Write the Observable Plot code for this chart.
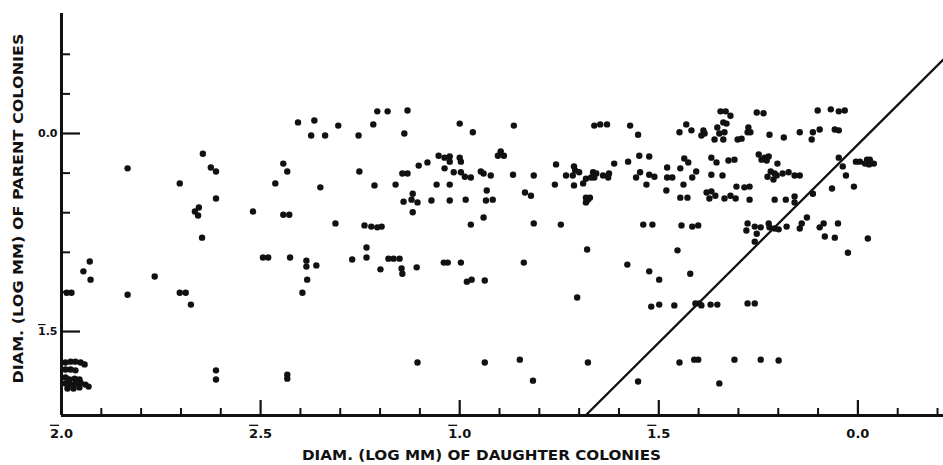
<!DOCTYPE html>
<html><head><meta charset="utf-8">
<script src="https://cdn.jsdelivr.net/npm/d3@7"></script>
<script src="https://cdn.jsdelivr.net/npm/@observablehq/plot@0.6"></script>
<style>html,body{margin:0;padding:0;background:#fff}</style>
</head><body><div id="chart"></div>
<script>
// [daughter log diam, parent log diam]
const leftPoints = [[-1.406,0.028],[-1.645,-0.051],[-1.834,-0.088],[-1.625,-0.086],[-1.612,-0.096],[-1.443,-0.076],[-1.433,-0.096],[-1.703,-0.126],[-1.463,-0.126],[-1.612,-0.164],[-1.665,-0.197],[-1.655,-0.187],[-1.657,-0.207],[-1.519,-0.197],[-1.443,-0.205],[-1.428,-0.205],[-1.647,-0.263],[-1.929,-0.323],[-1.494,-0.313],[-1.481,-0.313],[-1.426,-0.313],[-1.945,-0.348],[-1.927,-0.369],[-1.766,-0.361],[-1.834,-0.407],[-1.703,-0.402],[-1.688,-0.402],[-1.675,-0.432],[-1.987,-0.402],[-1.975,-0.402],[-1.612,-0.598],[-1.612,-0.621],[-1.433,-0.609],[-1.433,-0.619]];
const edgeCluster = [[-1.990,-0.578],[-1.977,-0.576],[-1.965,-0.576],[-1.952,-0.578],[-1.942,-0.583],[-1.990,-0.596],[-1.977,-0.596],[-1.965,-0.598],[-1.990,-0.616],[-1.980,-0.621],[-1.967,-0.619],[-1.955,-0.621],[-1.990,-0.631],[-1.977,-0.634],[-1.965,-0.631],[-1.952,-0.629],[-1.940,-0.634],[-1.932,-0.639],[-1.985,-0.644],[-1.970,-0.644],[-1.955,-0.641]];
const middlePoints = [[-1.207,0.056],[-1.181,0.056],[-1.131,0.058],[-1.365,0.033],[-1.305,0.020],[-1.217,0.023],[-1.000,0.025],[-0.864,0.020],[-0.662,0.020],[-0.647,0.023],
[-1.373,-0.005],[-1.338,-0.005],[-1.254,-0.005],[-1.139,0.000],[-0.967,0.003],
[-0.897,-0.045],[-0.904,-0.056],[-0.889,-0.056],
[-1.053,-0.056],[-1.038,-0.061],[-1.025,-0.058],[-1.025,-0.071],[-1.000,-0.061],[-0.997,-0.071],
[-1.081,-0.073],[-1.103,-0.081],[-1.038,-0.088],[-1.252,-0.096],[-1.144,-0.101],[-1.131,-0.101],[-1.015,-0.098],[-0.997,-0.098],[-0.987,-0.109],[-0.972,-0.111],[-0.947,-0.096],[-0.940,-0.101],[-0.922,-0.106],[-0.866,-0.104],[-0.814,-0.106],[-0.758,-0.078],
[-0.713,-0.083],[-0.710,-0.093],[-0.700,-0.098],[-0.733,-0.106],[-0.716,-0.106],
[-0.665,-0.098],[-0.657,-0.101],[-0.670,-0.111],[-0.683,-0.114],[-0.662,-0.111],
[-1.350,-0.136],[-1.214,-0.131],[-1.161,-0.129],[-1.058,-0.129],[-1.025,-0.129],[-1.118,-0.152],
[-1.141,-0.172],[-1.121,-0.167],[-1.106,-0.174],[-1.071,-0.169],[-1.025,-0.169],[-0.985,-0.167],[-0.932,-0.144],[-0.934,-0.169],[-0.917,-0.167],
[-0.836,-0.149],[-0.821,-0.157],[-0.761,-0.129],[-0.713,-0.131],[-0.690,-0.126],
[-0.683,-0.162],[-0.673,-0.162],[-0.683,-0.174],[-0.678,-0.167],
[-1.118,-0.199],[-1.312,-0.227],[-1.239,-0.232],[-1.222,-0.235],[-1.207,-0.237],[-1.196,-0.235],[-0.972,-0.230],[-0.940,-0.212],[-0.814,-0.227],[-0.746,-0.230],
[-1.234,-0.288],[-0.680,-0.293],
[-1.385,-0.321],[-1.385,-0.336],[-1.360,-0.333],[-1.270,-0.318],[-1.234,-0.313],[-1.179,-0.316],[-1.166,-0.316],[-1.151,-0.316],[-1.199,-0.343],[-1.146,-0.341],[-1.144,-0.354],[-1.108,-0.338],[-1.040,-0.326],[-1.030,-0.326],[-0.997,-0.326],[-0.839,-0.326],
[-1.383,-0.369],[-0.982,-0.374],[-0.970,-0.369],[-0.937,-0.371],[-1.395,-0.402],[-0.705,-0.414],
[-1.106,-0.578],[-0.937,-0.578],[-0.849,-0.571],[-0.678,-0.578],[-0.816,-0.624]];
const rightPoints = [[-0.345,0.056],[-0.332,0.056],[-0.320,0.045],[-0.254,0.053],[-0.237,0.051],[-0.101,0.058],[-0.068,0.061],[-0.048,0.056],[-0.033,0.058],
[-0.630,0.023],[-0.572,0.020],[-0.552,-0.003],[-0.431,0.023],[-0.418,0.008],[-0.448,0.003],[-0.388,0.008],[-0.385,0.000],[-0.393,-0.005],
[-0.353,0.015],[-0.338,0.028],[-0.330,0.025],[-0.348,0.000],[-0.335,0.003],[-0.338,-0.015],[-0.360,-0.015],[-0.302,-0.015],[-0.292,-0.013],
[-0.275,0.015],[-0.277,0.003],[-0.270,0.003],[-0.222,-0.003],[-0.186,-0.010],[-0.146,0.003],[-0.113,0.003],[-0.116,-0.015],[-0.096,0.010],[-0.058,0.010],[-0.048,0.008],
[-0.612,-0.076],[-0.577,-0.071],[-0.549,-0.056],[-0.524,-0.058],[-0.640,-0.106],[-0.625,-0.101],[-0.627,-0.111],[-0.557,-0.111],[-0.547,-0.098],[-0.531,-0.129],[-0.524,-0.104],[-0.511,-0.109],
[-0.479,-0.086],[-0.479,-0.111],[-0.466,-0.111],[-0.446,-0.088],[-0.481,-0.144],[-0.438,-0.129],[-0.446,-0.162],[-0.428,-0.162],[-0.436,-0.063],[-0.426,-0.073],[-0.406,-0.096],[-0.416,-0.111],
[-0.368,-0.061],[-0.355,-0.073],[-0.325,-0.068],[-0.310,-0.066],[-0.368,-0.104],[-0.340,-0.106],[-0.380,-0.149],[-0.368,-0.146],[-0.373,-0.164],[-0.358,-0.157],[-0.335,-0.164],[-0.320,-0.157],[-0.307,-0.164],[-0.305,-0.134],[-0.285,-0.136],[-0.272,-0.134],[-0.272,-0.167],
[-0.249,-0.053],[-0.234,-0.061],[-0.224,-0.058],[-0.229,-0.068],[-0.242,-0.066],[-0.202,-0.076],
[-0.219,-0.096],[-0.209,-0.101],[-0.227,-0.109],[-0.212,-0.116],[-0.204,-0.106],[-0.189,-0.101],[-0.174,-0.098],[-0.159,-0.106],[-0.146,-0.106],
[-0.209,-0.167],[-0.181,-0.167],[-0.159,-0.159],[-0.159,-0.174],[-0.113,-0.152],[-0.065,-0.139],[-0.010,-0.134],[-0.048,-0.061],[-0.038,-0.083],[-0.030,-0.106],
[-0.005,-0.071],[0.005,-0.071],[0.023,-0.066],[0.030,-0.066],[0.028,-0.078],[0.040,-0.076],[0.018,-0.076],
[-0.277,-0.227],[-0.280,-0.245],[-0.259,-0.235],[-0.244,-0.237],[-0.254,-0.253],[-0.259,-0.273],
[-0.224,-0.227],[-0.222,-0.237],[-0.209,-0.240],[-0.199,-0.242],[-0.179,-0.235],[-0.146,-0.240],[-0.141,-0.227],[-0.128,-0.212],[-0.096,-0.237],[-0.086,-0.227],[-0.083,-0.260],[-0.058,-0.263],[-0.050,-0.227],[-0.025,-0.301],[0.025,-0.265],
[-0.539,-0.230],[-0.516,-0.230],[-0.443,-0.232],[-0.416,-0.235],[-0.401,-0.232],[-0.453,-0.295],[-0.579,-0.331],[-0.524,-0.348],[-0.499,-0.369],[-0.421,-0.354],
[-0.519,-0.437],[-0.499,-0.432],[-0.461,-0.434],[-0.408,-0.429],[-0.398,-0.429],[-0.393,-0.434],[-0.370,-0.432],[-0.353,-0.432],[-0.277,-0.429],[-0.259,-0.429],
[-0.448,-0.578],[-0.411,-0.571],[-0.401,-0.571],[-0.310,-0.571],[-0.244,-0.571],[-0.199,-0.573],[-0.552,-0.626],[-0.348,-0.631]];

const fitSlope = 1;
const fitIntercept = -0.028;

const xMajorTicks = [-1.5, -1.0, -0.5, 0.0];
const xMinorTicks = [-1.9,-1.8,-1.7,-1.6,-1.4,-1.3,-1.2,-1.1,-0.9,-0.8,-0.7,-0.6,-0.4,-0.3,-0.2,-0.1,0.1,0.2];
const yMajorTicks = [0.0, -0.5];
const yMinorTicks = [0.2, 0.1, -0.1, -0.2, -0.3, -0.4, -0.6];
const xLabelValues = [-2.0, -1.5, -1.0, -0.5, 0.0];
const xLabelTexts = ["2\u0305.0", "2\u0305.5", "1\u0305.0", "1\u0305.5", "0.0"];
const yLabelValues = [0.0, -0.5];
const yLabelTexts = ["0.0", "1\u0305.5"];
const xTitle = "DIAM. (LOG MM) OF DAUGHTER COLONIES";
const yTitle = "DIAM. (LOG MM) OF PARENT COLONIES";

const W = 943, H = 465;
const mL = 61, mR = 0, mT = 13, mB = 50;
const plotW = W - mL - mR, plotH = H - mT - mB;
const xDomain = [-2, 0.215];
const yDomain = [-0.712, 0.303];

const points = [...leftPoints, ...edgeCluster, ...middlePoints, ...rightPoints]
  .map(([d, p]) => ({daughter: d, parent: p}));
const xStart = (yDomain[0] - fitIntercept) / fitSlope;
const fitLine = [xStart, xDomain[1] + 0.05].map(d => ({daughter: d, parent: fitSlope * d + fitIntercept}));

const ink = "#111";
const chart = Plot.plot({
  width: W, height: H,
  marginLeft: mL, marginRight: mR, marginTop: mT, marginBottom: mB,
  x: {domain: xDomain, axis: null},
  y: {domain: yDomain, axis: null},
  style: {fontFamily: "'DejaVu Sans', sans-serif", background: "#fff", color: ink},
  marks: [
    Plot.line(fitLine, {x: "daughter", y: "parent", stroke: ink, strokeWidth: 2.3, clip: true}),
    Plot.dot(points, {x: "daughter", y: "parent", r: 3.2, fill: ink}),
    Plot.ruleY([yDomain[0]], {stroke: ink, strokeWidth: 3}),
    Plot.ruleX([xDomain[0]], {stroke: ink, strokeWidth: 3}),
    Plot.tickX(xMinorTicks, {x: d => d, insetTop: plotH - 7, stroke: ink, strokeWidth: 2}),
    Plot.tickX(xMajorTicks, {x: d => d, insetTop: plotH - 15, stroke: ink, strokeWidth: 2.2}),
    Plot.tickY(yMinorTicks, {y: d => d, insetRight: plotW - 9, stroke: ink, strokeWidth: 2}),
    Plot.tickY(yMajorTicks, {y: d => d, insetRight: plotW - 19, stroke: ink, strokeWidth: 2.2}),
    Plot.text(xLabelValues, {x: d => d, y: yDomain[0], dy: 18, text: (d, i) => xLabelTexts[i], fontSize: 13, fontWeight: "bold", fill: ink}),
    Plot.text(yLabelValues, {x: xDomain[0], y: d => d, dx: -4, textAnchor: "end", text: (d, i) => yLabelTexts[i], fontSize: 11, fontWeight: "bold", fill: ink}),
    Plot.text([xTitle], {frameAnchor: "bottom", textAnchor: "middle", lineAnchor: "middle", dx: -21, dy: 40, fontSize: 14, fontWeight: "bold", fill: ink}),
    Plot.text([yTitle], {frameAnchor: "left", textAnchor: "middle", lineAnchor: "middle", rotate: -90, dx: -43, dy: -6, fontSize: 14, fontWeight: "bold", fill: ink})
  ]
});
document.getElementById("chart").appendChild(chart);
const svg = d3.select(chart);
svg.selectAll("text")
  .filter(function() { return this.textContent === xTitle; })
  .attr("textLength", 359).attr("lengthAdjust", "spacingAndGlyphs");
svg.selectAll("text")
  .filter(function() { return this.textContent === yTitle; })
  .attr("textLength", 350).attr("lengthAdjust", "spacingAndGlyphs");
// bar notation: show the combining overline as an overline on the characteristic digit
svg.selectAll("text")
  .filter(function() { return this.textContent.includes("\u0305"); })
  .each(function() {
    const s = this.textContent;
    const k = s.indexOf("\u0305");
    const el = d3.select(this);
    el.text(null);
    el.append("tspan").text(s.slice(0, k - 1));
    el.append("tspan").style("text-decoration", "overline").text(s.charAt(k - 1));
    el.append("tspan").text(s.slice(k + 1));
  });
</script>
</body></html>
